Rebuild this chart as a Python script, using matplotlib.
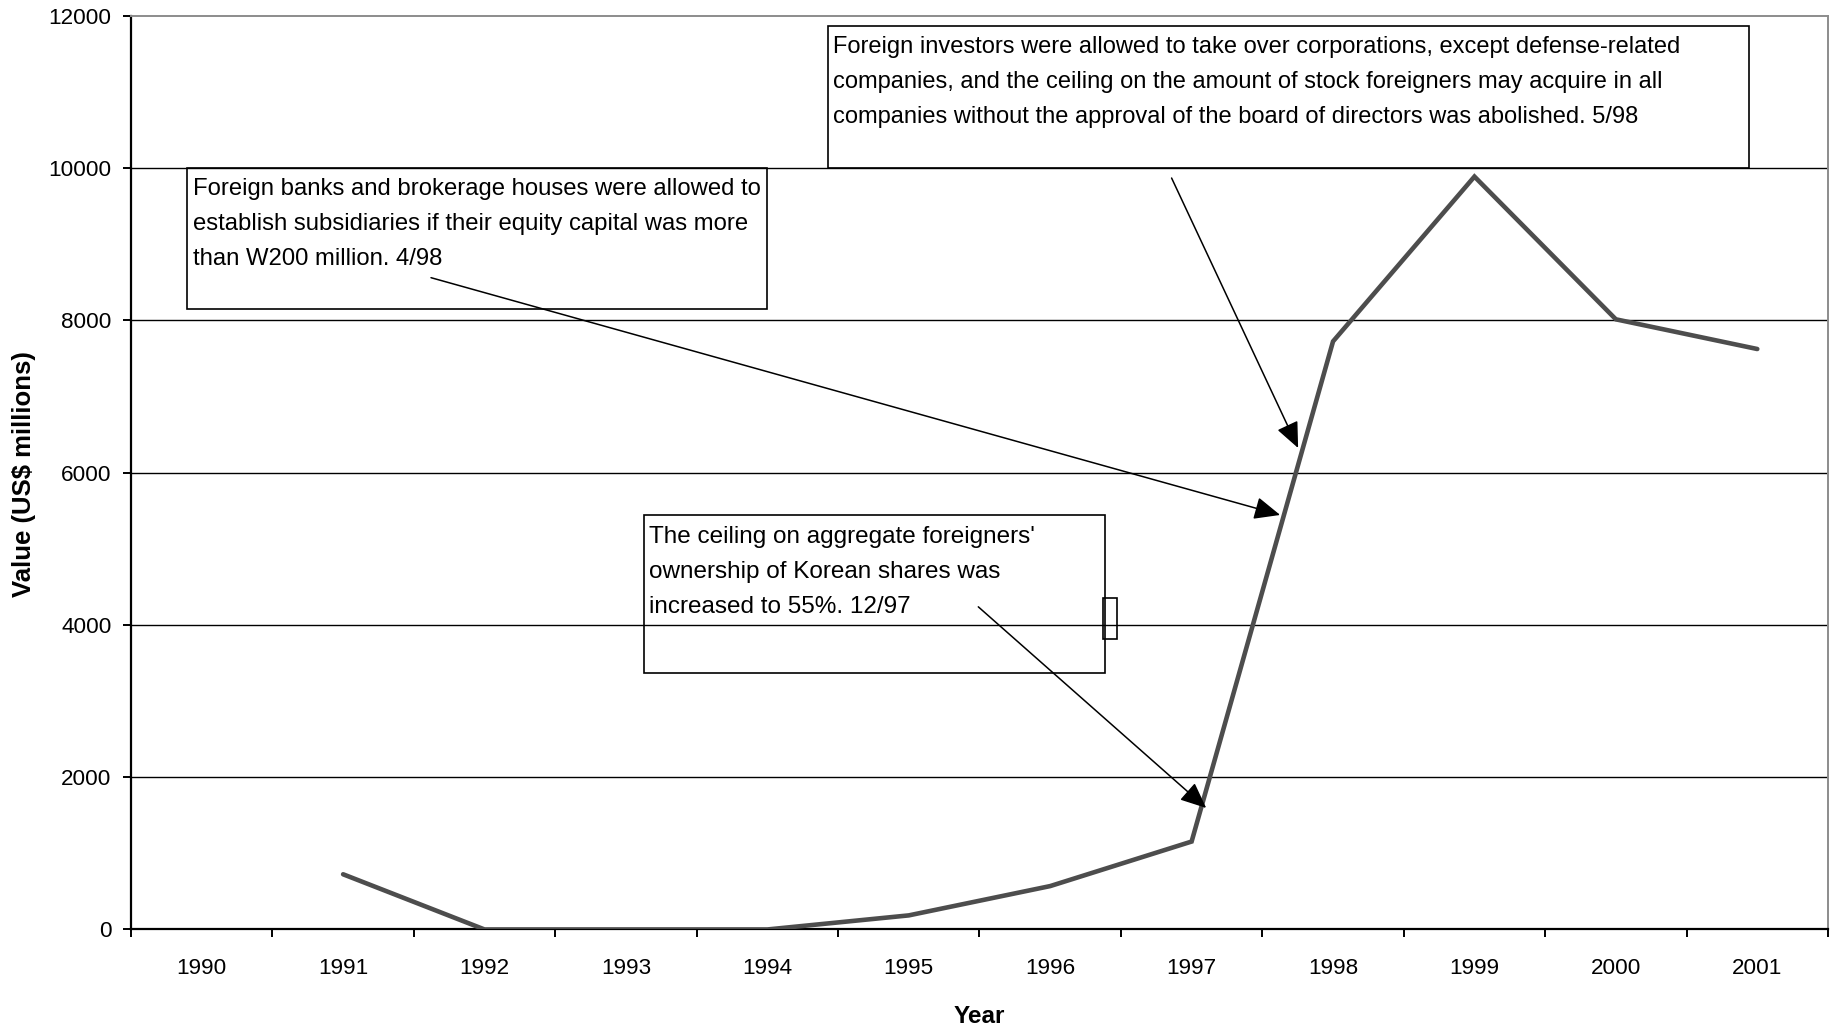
import matplotlib

matplotlib.use("Agg")
import matplotlib.pyplot as plt
import numpy as np
from matplotlib import font_manager
from matplotlib.patches import Rectangle

# foreign direct investment into Korea, US$ millions
years = ["1990", "1991", "1992", "1993", "1994", "1995",
         "1996", "1997", "1998", "1999", "2000", "2001"]
values = [np.nan, 725, 0, 0, 0, 185, 570, 1155, 7725, 9890, 8015, 7625]
y_ticks = [0, 2000, 4000, 6000, 8000, 10000, 12000]

note_takeover = (
    "Foreign investors were allowed to take over corporations, except defense-related\n"
    "companies, and the ceiling on the amount of stock foreigners may acquire in all\n"
    "companies without the approval of the board of directors was abolished. 5/98"
)
note_banks = (
    "Foreign banks and brokerage houses were allowed to\n"
    "establish subsidiaries if their equity capital was more\n"
    "than W200 million. 4/98"
)
note_ceiling = (
    "The ceiling on aggregate foreigners'\n"
    "ownership of Korean shares was\n"
    "increased to 55%. 12/97"
)

installed = {f.name for f in font_manager.fontManager.ttflist}
body_font = "Liberation Sans"
if "Liberation Sans Narrow" in installed:
    tick_font, tick_size = "Liberation Sans Narrow", 19
else:
    tick_font, tick_size = "Liberation Sans", 16.2

fig = plt.figure(figsize=(18.37, 10.30), dpi=100)
ax = fig.add_axes([0.0713, 0.0976, 0.9238, 0.8869])

x = np.arange(len(years))
ax.plot(x, values, color="#4d4d4d", lw=3.3, solid_capstyle="round",
        solid_joinstyle="miter", zorder=4)

ax.set_xlim(-0.5, len(years) - 0.5)
ax.set_ylim(y_ticks[0], y_ticks[-1])

# horizontal rules between the axis limits
ax.hlines(y_ticks[1:-1], -0.5, len(years) - 0.5, color="black", lw=1.0, zorder=1)

# category boundaries get the ticks, the centres get the labels
ax.set_xticks(np.arange(-0.5, len(years), 1))
ax.set_xticks(x, minor=True)
ax.set_xticklabels(years, minor=True, fontfamily=tick_font, fontsize=tick_size)
ax.tick_params(axis="x", which="major", direction="out", length=6, width=1.4,
               labelbottom=False)
ax.tick_params(axis="x", which="minor", length=0, pad=20.5)

ax.set_yticks(y_ticks)
ax.set_yticklabels([str(v) for v in y_ticks], fontfamily=tick_font, fontsize=tick_size)
ax.tick_params(axis="y", direction="out", length=6, width=1.4, pad=7.9)

for side in ("left", "bottom"):
    ax.spines[side].set_color("black")
    ax.spines[side].set_linewidth(1.6)
for side in ("top", "right"):
    ax.spines[side].set_color("#8c8c8c")
    ax.spines[side].set_linewidth(1.4)

fig.text(0.5332, 0.0065, "Year", ha="center", va="baseline",
         fontfamily=body_font, fontweight="bold", fontsize=17.5)
fig.text(0.0128, 0.5393, "Value (US$ millions)", ha="center", va="center",
         rotation=90, fontfamily=body_font, fontweight="bold", fontsize=18.5)

# annotation boxes: (x0, y0, x1, y1) in axes fraction
boxes = [
    ((0.4109, 0.834, 0.9535, 0.989), note_takeover, 17.0),
    ((0.0333, 0.679, 0.3750, 0.834), note_banks, 17.2),
    ((0.3025, 0.2808, 0.5740, 0.4532), note_ceiling, 17.5),
]
for (x0, y0, x1, y1), note, size in boxes:
    ax.add_patch(Rectangle((x0, y0), x1 - x0, y1 - y0, transform=ax.transAxes,
                           fill=False, ec="black", lw=1.2, clip_on=False, zorder=5))
    ax.text(x0 + 0.003, y1 - 0.011, note, transform=ax.transAxes, ha="left",
            va="top", fontfamily=body_font, fontsize=size, linespacing=1.77, zorder=6)

# small stray frame on the right edge of the lower box
ax.add_patch(Rectangle((0.5726, 0.3177), 0.0082, 0.0455, transform=ax.transAxes,
                       fill=False, ec="black", lw=1.2, clip_on=False, zorder=5))

# arrows from the notes to the curve: tail in axes fraction, head in data
arrows = [
    ((0.6132, 0.8226), (7.753, 6325)),
    ((0.1768, 0.7135), (7.626, 5445)),
    ((0.4993, 0.3532), (7.103, 1596)),
]
for tail, head in arrows:
    ax.annotate("", xy=head, xycoords="data", xytext=tail, textcoords="axes fraction",
                arrowprops=dict(arrowstyle="-|>,head_length=0.8,head_width=0.35",
                                color="black", lw=1.1, shrinkA=0, shrinkB=0,
                                mutation_scale=20),
                zorder=6)

fig.savefig("out.png", dpi=100, facecolor="white")
